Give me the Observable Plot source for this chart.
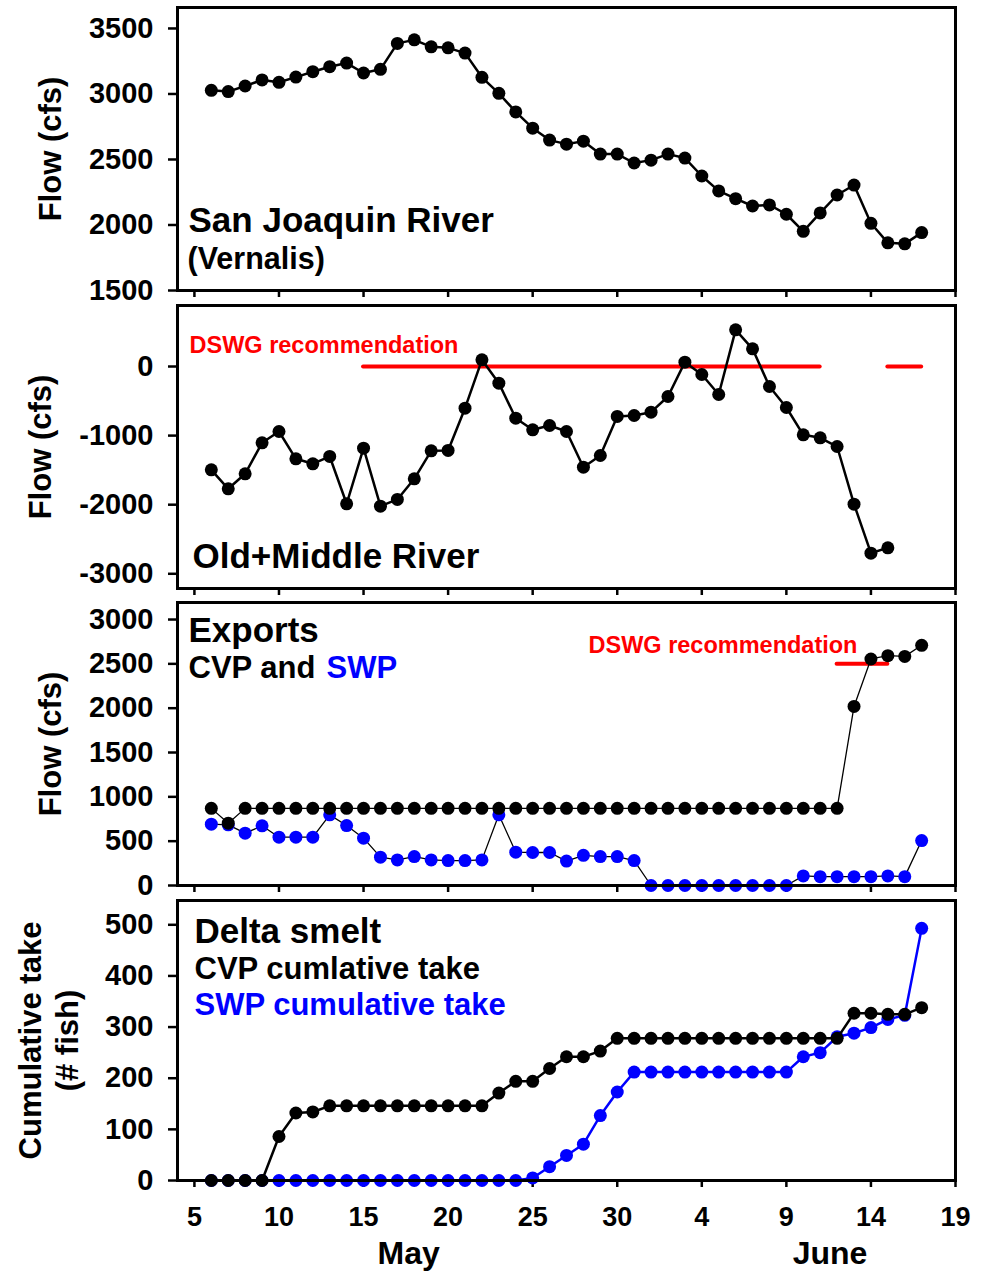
<!DOCTYPE html>
<html>
<head>
<meta charset="utf-8">
<script src="https://cdn.jsdelivr.net/npm/d3@7"></script>
<script src="https://cdn.jsdelivr.net/npm/@observablehq/plot@0.6"></script>
<style>
  body { margin: 0; background: #fff; }
  #chart { position: relative; width: 986px; height: 1271px; overflow: hidden; }
  #chart svg { position: absolute; left: 0; }
</style>
</head>
<body>
<div id="chart"></div>
<script>
// Daily observations, 6 May – 17 June
const days = d3.utcDay.range(new Date(Date.UTC(2009, 4, 6)), new Date(Date.UTC(2009, 5, 18)));

// San Joaquin River flow at Vernalis (cfs)
const sjrFlow = [
  3028, 3018, 3061, 3107, 3089, 3129, 3170, 3208, 3236, 3160, 3188, 3386, 3413,
  3360, 3352, 3312, 3127, 3005, 2863, 2739, 2648, 2617, 2640, 2541, 2541, 2473,
  2495, 2541, 2511, 2374, 2260, 2201, 2145, 2153, 2082, 1952, 2092, 2229, 2305,
  2013, 1864, 1856, 1942
];

// Old + Middle River flow (cfs), through 15 June
const omrFlow = [
  -1495, -1770, -1553, -1104, -941, -1336, -1408, -1302, -1987, -1182, -2021,
  -1924, -1625, -1220, -1215, -603, 97, -241, -748, -916, -854, -941, -1457,
  -1288, -723, -709, -661, -434, 63, -116, -405, 531, 256, -289, -593, -989,
  -1032, -1158, -1992, -2701, -2624
];

// Exports (cfs)
const cvpExports = [
  870, 703, 870, 870, 870, 870, 870, 870, 870, 870, 870, 870, 870, 870, 870,
  870, 870, 870, 870, 870, 870, 870, 870, 870, 870, 870, 870, 870, 870, 870,
  870, 870, 870, 870, 870, 870, 870, 870, 2020, 2555, 2592, 2584, 2709
];
const swpExports = [
  692, 684, 590, 673, 545, 545, 545, 797, 676, 534, 320, 289, 326, 289, 281,
  281, 289, 797, 376, 372, 372, 275, 340, 326, 326, 281, 0, 0, 0, 0, 0, 0, 0,
  0, 0, 108, 100, 100, 100, 100, 108, 100, 507
];

// Delta smelt cumulative take (# fish)
const cvpTake = [
  0, 0, 0, 0, 86, 132, 134, 146, 146, 146, 146, 146, 146, 146, 146, 146, 146,
  171, 194, 194, 219, 242, 242, 253, 278, 278, 278, 278, 278, 278, 278, 278,
  278, 278, 278, 278, 278, 278, 327, 327, 325, 325, 338
];
const swpTake = [
  0, 0, 0, 0, 0, 0, 0, 0, 0, 0, 0, 0, 0, 0, 0, 0, 0, 0, 0, 5, 27, 49, 71, 127,
  173, 212, 212, 212, 212, 212, 212, 212, 212, 212, 212, 242, 250, 281, 288,
  299, 315, 323, 493
];

// DSWG recommended levels
const omrRecommendation = [
  {start: new Date(Date.UTC(2009, 4, 15)), end: new Date(Date.UTC(2009, 5, 11)), value: 0},
  {start: new Date(Date.UTC(2009, 5, 15)), end: new Date(Date.UTC(2009, 5, 17)), value: 0}
];
const exportRecommendation = [
  {start: new Date(Date.UTC(2009, 5, 12)), end: new Date(Date.UTC(2009, 5, 15)), value: 2500}
];

// Axis ticks
const xDomain = [new Date(Date.UTC(2009, 4, 4)), new Date(Date.UTC(2009, 5, 19))];
const xTicks = [
  [4, 5], [4, 10], [4, 15], [4, 20], [4, 25], [4, 30], [5, 4], [5, 9], [5, 14], [5, 19]
].map(([m, d]) => new Date(Date.UTC(2009, m, d)));
const months = [
  {label: "May", date: new Date(Date.UTC(2009, 4, 17, 16))},
  {label: "June", date: new Date(Date.UTC(2009, 5, 11, 14))}
];
const sjrTicks = [1500, 2000, 2500, 3000, 3500];
const omrTicks = [-3000, -2000, -1000, 0];
const exportTicks = [0, 500, 1000, 1500, 2000, 2500, 3000];
const takeTicks = [0, 100, 200, 300, 400, 500];

const rows = (values) => values.map((v, i) => ({date: days[i], value: v}));
const sjr = rows(sjrFlow);
const omr = rows(omrFlow);
const cvpEx = rows(cvpExports);
const swpEx = rows(swpExports);
const cvpTk = rows(cvpTake);
const swpTk = rows(swpTake);

const BLUE = "#0000ff";
const RED = "#ff0000";
const FONT = "'Liberation Sans', Arial, Helvetica, sans-serif";
const dayFmt = d3.utcFormat("%-d");

function label(text, opts) {
  return Plot.text([text], {
    text: (d) => d,
    frameAnchor: "top-left",
    textAnchor: "start",
    lineAnchor: "bottom",
    fontWeight: "bold",
    fill: "black",
    ...opts
  });
}

function yTitle(text, dx) {
  return Plot.text([text], {
    text: (d) => d,
    frameAnchor: "left",
    rotate: -90,
    dx,
    textAnchor: "middle",
    lineAnchor: "middle",
    lineHeight: 1.2,
    fontSize: 31,
    fontWeight: "bold",
    fill: "black"
  });
}

function panel({top, marginTop, marginBottom, frameHeight, yDomain, yTicks, xLabels, marks}) {
  const svg = Plot.plot({
    width: 986,
    height: marginTop + frameHeight + marginBottom,
    marginLeft: 177,
    marginRight: 31,
    marginTop,
    marginBottom,
    style: {background: "transparent", overflow: "visible", fontFamily: FONT, fontWeight: "bold", color: "black"},
    x: {type: "utc", domain: xDomain},
    y: {domain: yDomain},
    marks: [
      Plot.axisY({
        ticks: yTicks, tickSize: 9, tickPadding: 15, label: null,
        tickFormat: (d) => String(d), fontSize: 29, fontWeight: "bold", strokeWidth: 2.5
      }),
      Plot.axisX({
        ticks: xTicks, tickSize: 7, tickPadding: 19, label: null,
        tickFormat: xLabels ? dayFmt : () => "", fontSize: 27, fontWeight: "bold", strokeWidth: 2.5
      }),
      ...marks,
      Plot.frame({stroke: "black", strokeWidth: 3})
    ]
  });
  svg.style.top = `${top}px`;
  return svg;
}

const chart = document.getElementById("chart");

// San Joaquin River
chart.append(panel({
  top: 0, marginTop: 7, marginBottom: 10, frameHeight: 283,
  yDomain: [1500, 3660], yTicks: sjrTicks, xLabels: false,
  marks: [
    Plot.line(sjr, {x: "date", y: "value", stroke: "black", strokeWidth: 2.5}),
    Plot.dot(sjr, {x: "date", y: "value", r: 6.5, fill: "black"}),
    label("San Joaquin River", {dx: 11, dy: 224, fontSize: 35}),
    label("(Vernalis)", {dx: 10, dy: 261, fontSize: 30.5}),
    yTitle("Flow (cfs)", -128)
  ]
}));

// Old + Middle River
chart.append(panel({
  top: 295, marginTop: 10, marginBottom: 10, frameHeight: 283,
  yDomain: [-3213, 883], yTicks: omrTicks, xLabels: false,
  marks: [
    Plot.ruleY(omrRecommendation, {y: "value", x1: "start", x2: "end", stroke: RED, strokeWidth: 4, strokeLinecap: "round"}),
    Plot.line(omr, {x: "date", y: "value", stroke: "black", strokeWidth: 2.5}),
    Plot.dot(omr, {x: "date", y: "value", r: 6.5, fill: "black"}),
    label("DSWG recommendation", {dx: 12, dy: 47, fontSize: 23.5, fill: RED}),
    label("Old+Middle River", {dx: 15, dy: 262, fontSize: 35}),
    yTitle("Flow (cfs)", -138)
  ]
}));

// Exports
chart.append(panel({
  top: 592, marginTop: 10, marginBottom: 10, frameHeight: 283,
  yDomain: [0, 3192], yTicks: exportTicks, xLabels: false,
  marks: [
    Plot.ruleY(exportRecommendation, {y: "value", x1: "start", x2: "end", stroke: RED, strokeWidth: 4, strokeLinecap: "round"}),
    Plot.line(swpEx, {x: "date", y: "value", stroke: "black", strokeWidth: 1.3}),
    Plot.dot(swpEx, {x: "date", y: "value", r: 6.5, fill: BLUE}),
    Plot.line(cvpEx, {x: "date", y: "value", stroke: "black", strokeWidth: 1.3}),
    Plot.dot(cvpEx, {x: "date", y: "value", r: 6.5, fill: "black"}),
    label("Exports", {dx: 11, dy: 39, fontSize: 35}),
    label("CVP and", {dx: 11, dy: 75, fontSize: 31}),
    label("SWP", {dx: 149, dy: 75, fontSize: 31, fill: BLUE}),
    label("DSWG recommendation", {dx: 411, dy: 50, fontSize: 23.5, fill: RED}),
    yTitle("Flow (cfs)", -128)
  ]
}));

// Delta smelt cumulative take
chart.append(panel({
  top: 890, marginTop: 10, marginBottom: 91, frameHeight: 280,
  yDomain: [0, 547.5], yTicks: takeTicks, xLabels: true,
  marks: [
    Plot.line(swpTk, {x: "date", y: "value", stroke: BLUE, strokeWidth: 2.5}),
    Plot.dot(swpTk, {x: "date", y: "value", r: 6.5, fill: BLUE}),
    Plot.line(cvpTk, {x: "date", y: "value", stroke: "black", strokeWidth: 2.5}),
    Plot.dot(cvpTk, {x: "date", y: "value", r: 6.5, fill: "black"}),
    label("Delta smelt", {dx: 17, dy: 42, fontSize: 35}),
    label("CVP cumlative take", {dx: 17, dy: 78, fontSize: 31}),
    label("SWP cumulative take", {dx: 17, dy: 114, fontSize: 31, fill: BLUE}),
    yTitle("Cumulative take\n(# fish)", -130),
    Plot.text(months, {
      x: "date", text: "label", frameAnchor: "bottom", dy: 83,
      textAnchor: "middle", lineAnchor: "bottom", fontSize: 32, fontWeight: "bold", fill: "black"
    })
  ]
}));
</script>
</body>
</html>
